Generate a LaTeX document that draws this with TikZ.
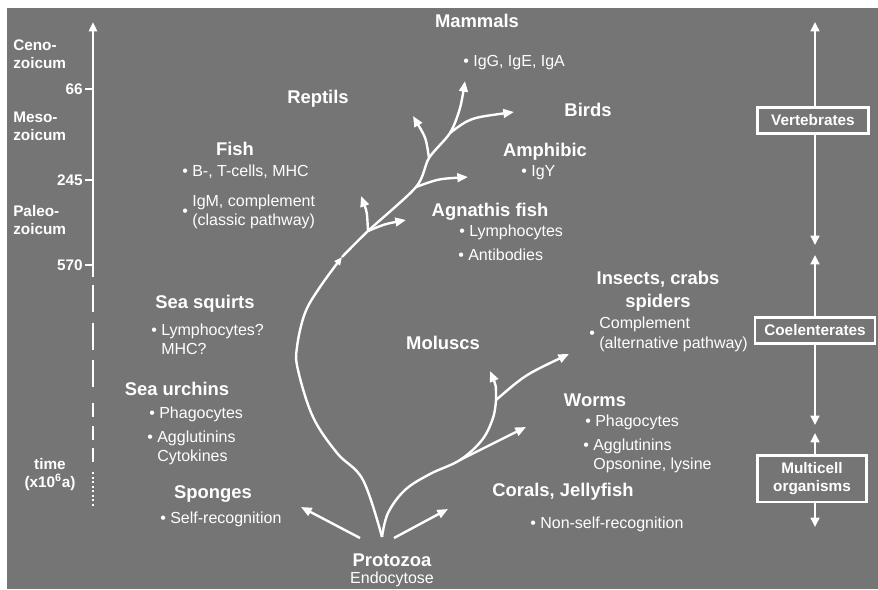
\documentclass[tikz,border=0pt]{standalone}
\usepackage{fontspec}
\setmainfont{Liberation Sans}
\usetikzlibrary{arrows.meta}
\definecolor{slate}{RGB}{117,117,117}
\newcommand{\bitem}[2][t]{\textbullet\ \begin{tabular}[#1]{@{}l@{}}#2\end{tabular}}

\begin{document}
\begin{tikzpicture}[x=0.75pt,y=-0.75pt]
\path[use as bounding box] (0,0) rectangle (878,589);
\fill[slate] (7,8) rectangle (878,589);
\tikzstyle{taxon}=[text=white, font=\bfseries\fontsize{13.8}{17}\selectfont, inner sep=0pt, align=center, anchor=base]
\tikzstyle{trait}=[text=white, font=\fontsize{12}{14.5}\selectfont, inner sep=0pt, anchor=base west]
\tikzstyle{era}=[text=white, font=\bfseries\fontsize{11.5}{13.5}\selectfont, inner sep=0pt, align=left, anchor=base west]
\tikzstyle{tierbox}=[draw=white, line width=2pt, text=white, font=\bfseries\fontsize{11.5}{13.5}\selectfont, align=center, inner xsep=7pt, minimum height=19.5pt]
\tikzstyle{twig}=[draw=white, line width=1.8pt, -{Triangle[length=8pt,width=6.5pt]}]
\tikzstyle{reach}=[draw=white, line width=2pt, -{Triangle[length=7pt,width=6.5pt]}]
\tikzstyle{timeline}=[draw=white, line width=1.8pt]

% time axis
\coordinate (ttop) at (93,22);
\coordinate (tlow) at (93,277);
\draw[timeline, -{Triangle[length=7pt,width=6pt]}] (tlow) -- (ttop);
\foreach \y/\v in {89/66,180/245,265/570}{
  \draw[white, line width=1pt] (85,\y) -- (93,\y);
  \node[era, anchor=base east] (mya\v) at (83,\y+5.5) {\v};
}
\draw[timeline, dash pattern=on 20.25pt off 8pt] (93,285) -- (93,387);
\draw[timeline, dash pattern=on 10.5pt off 6.5pt] (93,403) -- (93,463);
\draw[timeline, line width=1.5pt, dash pattern=on 1.5pt off 1.9pt] (93,472) -- (93,508);

% base anchor = last line
\node[era] (ceno) at (13,68.5) {Ceno-\\zoicum};
\node[era] (meso) at (13,140.5) {Meso-\\zoicum};
\node[era] (paleo) at (13,234) {Paleo-\\zoicum};
\node[era, align=center, anchor=base] (time) at (50,487) {time\\(x10\textsuperscript{6}a)};

% groups and traits
\node[taxon] (mammals) at (477,27.5) {Mammals};
\node[trait] (igg) at (463,66.5) {\bitem{IgG, IgE, IgA}};
\node[taxon] (reptils) at (318,103.5) {Reptils};
\node[taxon] (birds) at (588,116.5) {Birds};
\node[taxon] (amphibic) at (545,156.5) {Amphibic};
\node[trait] (igy) at (521,176.5) {\bitem{IgY}};
\node[taxon] (agnathis) at (490,216.5) {Agnathis fish};
\node[trait] (lympho) at (459,236.5) {\bitem{Lymphocytes}};
\node[trait] (antib) at (458,260.5) {\bitem{Antibodies}};
\node[taxon] (fish) at (235,155.5) {Fish};
\node[trait] (btcell) at (182,176.5) {\bitem{B-, T-cells, MHC}};
\node[trait] (igm) at (182,216) {\bitem[c]{IgM, complement\\(classic pathway)}};
\node[taxon] (squirts) at (205,308.5) {Sea squirts};
\node[trait] (lymq) at (151,335.5) {\bitem{Lymphocytes?\\MHC?}};
\node[taxon] (urchins) at (177,395.5) {Sea urchins};
\node[trait] (phago) at (149,418.5) {\bitem{Phagocytes}};
\node[trait] (agglu) at (147,442.5) {\bitem{Agglutinins\\Cytokines}};
\node[taxon] (sponges) at (213,498.5) {Sponges};
\node[trait] (selfrec) at (160,523.5) {\bitem{Self-recognition}};
\node[taxon] (proto) at (392,566.5) {Protozoa};
\node[trait, anchor=base] (endo) at (392,583.5) {Endocytose};
\node[taxon] (moluscs) at (443,349.5) {Moluscs};
\node[taxon] (insects) at (658,307.5) {Insects, crabs\\spiders};
\node[trait] (compl) at (589,338.5) {\bitem[c]{Complement\\(alternative pathway)}};
\node[taxon] (worms) at (595,406.5) {Worms};
\node[trait] (wphago) at (585,426.5) {\bitem{Phagocytes}};
\node[trait] (wagglu) at (583,450.5) {\bitem{Agglutinins\\Opsonine, lysine}};
\node[taxon] (corals) at (563,496.5) {Corals, Jellyfish};
\node[trait] (nonself) at (530,528.5) {\bitem{Non-self-recognition}};

% tree
\coordinate (root) at (382,537);
\coordinate (kink) at (342,257);
\coordinate (j1) at (368,231);
\coordinate (j2) at (416,187);
\coordinate (j3) at (429,158);
\coordinate (j4) at (450,133);
\coordinate (tsmall) at (361,196);
\coordinate (tfish) at (406,220);
\coordinate (tamph) at (468,177);
\coordinate (trep) at (413,116);
\coordinate (tbird) at (514,112);
\coordinate (tmam) at (465,81);
\draw[twig, -{Triangle[length=6pt,width=5pt]}] plot[smooth, tension=0.6] coordinates {(root) (363,480) (337,453) (313,417) (298,370) (297,347) (305,313) (320,287) (kink)};
\draw[twig] plot[smooth, tension=0.5] coordinates {(kink) (j1) (j2) (j3) (j4) (460,108) (tmam)};
\draw[twig] (j1) .. controls (367,212) .. (tsmall);
\draw[twig] (j1) .. controls (385,224) .. (tfish);
\draw[twig] (j2) .. controls (438,179) .. (tamph);
\draw[twig] (j3) .. controls (426,138) .. (trep);
\draw[twig] (j4) .. controls (470,118) .. (tbird);

\coordinate (w) at (460,460);
\coordinate (m) at (496,400);
\coordinate (tworm) at (526,427);
\coordinate (tmol) at (490,371);
\coordinate (tins) at (569,354);
\draw[twig, -] plot[smooth, tension=0.6] coordinates {(root) (388,513) (405,490) (430,474) (w) (482,440) (493,418) (m)};
\draw[twig] (w) -- (tworm);
\draw[twig] (m) .. controls (496,385) .. (tmol);
\draw[twig] (m) .. controls (525,375) .. (tins);

\coordinate (sl) at (360,538);
\coordinate (tsp) at (301,507);
\coordinate (sr) at (394,538);
\coordinate (tcor) at (448,509);
\draw[twig] (sl) -- (tsp);
\draw[twig] (sr) -- (tcor);

% organisation levels
\node[tierbox, minimum width=83pt] (vert) at (813,120.5) {Vertebrates};
\node[tierbox] (coel) at (815,330.5) {Coelenterates};
\node[tierbox, minimum width=82pt, minimum height=35pt] (multi) at (812,478.5) {Multicell\\organisms};
\coordinate (vtop) at (815,22);
\coordinate (vlow) at (815,245);
\coordinate (ctop) at (815,255);
\coordinate (clow) at (815,425);
\coordinate (mtop) at (815,433);
\coordinate (mlow) at (815,527);
\draw[reach] (vert.north -| vtop) -- (vtop);
\draw[reach] (vert.south -| vlow) -- (vlow);
\draw[reach] (coel) -- (ctop);
\draw[reach] (coel) -- (clow);
\draw[reach] (multi.north -| mtop) -- (mtop);
\draw[reach] (multi.south -| mlow) -- (mlow);
\end{tikzpicture}
\end{document}
